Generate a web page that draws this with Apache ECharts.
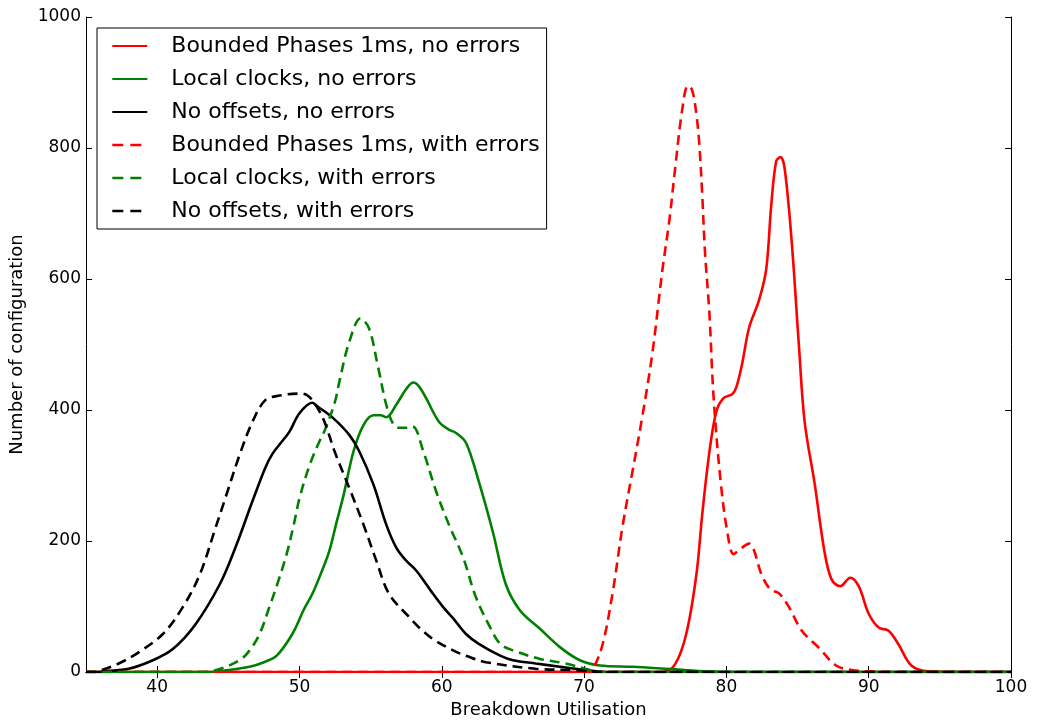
<!DOCTYPE html>
<html>
<head>
<meta charset="utf-8">
<script src="https://cdn.jsdelivr.net/npm/echarts@6/dist/echarts.min.js"></script>
<style>
html,body{margin:0;padding:0;background:#fff;}
#chart{width:1039px;height:724px;}
</style>
</head>
<body>
<div id="chart"></div>
<script>
// ---- data (x = Breakdown Utilisation, y = Number of configuration) ----
const xTicks = [40, 50, 60, 70, 80, 90, 100];
const yTicks = [0, 200, 400, 600, 800, 1000];

const seriesNames = [
  'Bounded Phases 1ms, no errors',
  'Local clocks, no errors',
  'No offsets, no errors',
  'Bounded Phases 1ms, with errors',
  'Local clocks, with errors',
  'No offsets, with errors'
];

const boundedNoErrors = [
  [35,0],[75.5,0],[76.4,12],[77.2,60],[77.9,150],[78.3,240],[78.8,335],[79.3,398],[79.8,418],
  [80.4,424],[80.7,435],[81.1,470],[81.6,526],[82.3,568],[82.8,615],[83.15,712],[83.5,780],
  [83.8,786],[84.1,768],[84.6,654],[85.1,497],[85.5,382],[86.2,288],[86.9,183],[87.4,141],
  [88.0,131],[88.7,144],[89.3,131],[90.0,89],[90.7,68],[91.4,63],[92.1,42],[93.0,10],[94.2,1],
  [96,0],[100,0]
];
const localNoErrors = [
  [35,0],[43.5,0],[44.8,2.5],[46.5,8],[47.5,15],[48.4,25],[49.5,58],[50.3,95],[50.9,119],
  [51.5,150],[52.1,185],[52.6,228],[53.1,270],[53.8,337],[54.5,377],[55.2,392],[55.7,392],
  [56.1,389],[56.8,408],[57.5,432],[58.0,442],[58.4,436],[58.9,418],[59.8,382],[60.5,370],
  [61.0,365],[61.7,350],[62.6,291],[63.6,213],[64.5,134],[65.5,94],[66.9,66],[68.3,38],
  [69.7,18],[71.1,10],[73.4,8],[75.7,5],[77.1,3],[79,0.5],[80,0],[100,0]
];
const offsetsNoErrors = [
  [35,0],[35.8,0],[36.4,1.5],[38.0,5],[39.7,18],[41.1,35],[42.7,73],[44.4,134],[45.5,190],
  [46.7,261],[47.6,312],[48.1,333],[48.7,350],[49.3,367],[50.0,395],[50.9,411],[51.3,405],[52.35,388],
  [53.5,362],[54.2,337],[55.2,286],[56.1,225],[56.8,190],[57.5,170],[58.2,155],[59.2,125],
  [60.1,99],[60.8,82],[61.7,58],[62.6,43],[64.1,25],[65.0,18],[66.6,13],[68.3,8],[69.9,3.5],
  [71.5,0],[100,0]
];
const boundedWithErrors = [
  [35,0],[70.3,0],[70.6,3],[71.3,42],[72.0,120],[72.7,222],[73.4,306],[74.1,391],[74.8,487],
  [75.5,613],[76.0,691],[76.4,769],[76.9,859],[77.3,895],[77.6,888],[77.9,850],[78.1,805],
  [78.3,730],[78.5,640],[78.8,550],[79.1,420],[79.6,290],[80.1,209],[80.5,180],[80.9,186],
  [81.3,193],[81.6,196],[81.9,188],[82.5,147],[83.1,126],[83.7,120],[84.4,99],[85.3,63],
  [86.5,37],[87.7,10],[88.8,3],[90,1],[92,0],[100,0]
];
const localWithErrors = [
  [35,0],[43,0],[44.1,2.5],[45.8,18],[46.5,33],[47.2,58],[47.9,100],[48.5,138],[49.1,180],
  [49.6,225],[50.0,265],[50.7,315],[51.4,352],[51.8,370],[52.5,413],[52.8,443],[53.5,504],
  [54.3,540],[54.9,524],[55.5,468],[56.1,408],[56.6,378],[57.0,373],[57.5,373],[57.95,375],
  [58.7,337],[59.6,276],[60.5,225],[61.5,175],[62.4,114],[63.4,68],[64.1,43],[65.0,33],
  [66.9,20],[68.7,13],[70.1,5],[71,0],[100,0]
];
const offsetsWithErrors = [
  [35,0],[35.5,0],[35.9,1.5],[37.3,13],[38.7,30],[40.4,58],[41.8,99],[43.0,149],[44.1,220],
  [44.8,266],[45.8,332],[46.7,382],[47.6,415],[48.6,422],[50.0,425],[50.5,423],[51.0,412],
  [51.7,385],[52.5,335],[53.5,281],[54.5,225],[55.4,170],[56.3,119],[57.7,84],[58.4,68],
  [59.4,50],[60.8,33],[61.8,24],[63.1,15],[66.6,5],[69.7,2.5],[71,0],[100,0]
];

const seriesData = [boundedNoErrors, localNoErrors, offsetsNoErrors,
                    boundedWithErrors, localWithErrors, offsetsWithErrors];
const seriesColors = ['#ff0000', '#008000', '#000000', '#ff0000', '#008000', '#000000'];
const seriesDashed = [false, false, false, true, true, true];

// ---- chart ----
const FONT = 'DejaVu Sans';
const chart = echarts.init(document.getElementById('chart'), null, {renderer: 'canvas'});

const tickStyle = {show: true, inside: true, length: 6, lineStyle: {color: '#000', width: 1}};
const lineAx = {show: true, lineStyle: {color: '#000', width: 1}};

const option = {
  animation: false,
  backgroundColor: '#fff',
  textStyle: {fontFamily: FONT},
  grid: {left: 86, right: 28, top: 17, bottom: 49, containLabel: false},
  legend: {
    orient: 'vertical',
    left: 97, top: 28,
    padding: [7, 7, 7, 14],
    itemWidth: 35, itemHeight: 21, itemGap: 11,
    backgroundColor: '#fff',
    borderColor: '#000', borderWidth: 1, borderRadius: 0,
    itemStyle: {opacity: 0},
    textStyle: {fontFamily: FONT, fontSize: 22, color: '#000', padding: [0, 0, 0, 19]},
    data: seriesNames.map((n, i) => seriesDashed[i]
      ? {name: n, lineStyle: {type: [11, 7, 11, 100], width: 2.6}}
      : {name: n})
  },
  xAxis: [
    {
      type: 'value', min: 35, max: 100, position: 'bottom',
      name: 'Breakdown Utilisation', nameLocation: 'middle', nameGap: 29,
      nameTextStyle: {fontFamily: FONT, fontSize: 18, color: '#000'},
      axisLine: lineAx,
      axisTick: Object.assign({customValues: xTicks}, tickStyle),
      axisLabel: {customValues: xTicks, fontFamily: FONT, fontSize: 17, color: '#000', margin: 7,
                  formatter: v => String(v)},
      splitLine: {show: false}
    },
    {
      type: 'value', min: 35, max: 100, position: 'top',
      axisLine: lineAx,
      axisTick: Object.assign({customValues: xTicks}, tickStyle),
      axisLabel: {show: false},
      splitLine: {show: false}
    }
  ],
  yAxis: [
    {
      type: 'value', min: 0, max: 1000, interval: 200, position: 'left',
      name: 'Number of configuration', nameLocation: 'middle', nameGap: 60, nameRotate: 90,
      nameTextStyle: {fontFamily: FONT, fontSize: 18, color: '#000'},
      axisLine: lineAx,
      axisTick: Object.assign({customValues: yTicks}, tickStyle),
      axisLabel: {customValues: yTicks, fontFamily: FONT, fontSize: 17, color: '#000', margin: 5,
                  formatter: v => String(v)},
      splitLine: {show: false}
    },
    {
      type: 'value', min: 0, max: 1000, interval: 200, position: 'right',
      axisLine: lineAx,
      axisTick: Object.assign({customValues: yTicks}, tickStyle),
      axisLabel: {show: false},
      splitLine: {show: false}
    }
  ],
  series: seriesNames.map((name, i) => ({
    name: name,
    type: 'line',
    xAxisIndex: 0, yAxisIndex: 0,
    data: seriesData[i],
    smooth: 0.35,
    symbol: 'none',
    showSymbol: false,
    color: seriesColors[i],
    lineStyle: {
      color: seriesColors[i],
      width: 2.6,
      type: seriesDashed[i] ? [10, 6] : 'solid'
    },
    itemStyle: {color: seriesColors[i]},
    z: 2 + i
  }))
};
chart.setOption(option);
</script>
</body>
</html>
